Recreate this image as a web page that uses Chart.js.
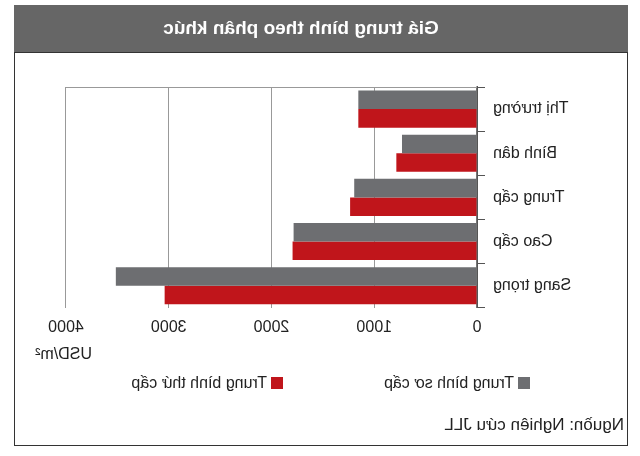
<!DOCTYPE html>
<html><head><meta charset="utf-8">
<script src="https://cdn.jsdelivr.net/npm/chart.js@4"></script>
<style>
body{margin:0;background:#fff;font-family:"Liberation Sans",Arial,sans-serif;}
#wrap{position:relative;width:640px;height:456px;transform:scaleX(-1);}
#frame{position:absolute;left:12px;top:5px;width:614px;height:441px;border:1.5px solid #333;box-sizing:border-box;}
#head{position:absolute;left:12px;top:5px;width:614px;height:48px;background:#666;border-bottom:1.5px solid #333;box-sizing:border-box;color:#fff;font-weight:bold;font-size:19px;text-align:center;line-height:46px;}
#cv{position:absolute;left:12px;top:60px;}
.t{position:absolute;color:#222;font-size:16px;}
.sq{display:inline-block;width:12px;height:12px;margin-right:4px;vertical-align:-1px;}
</style></head><body>
<div id="wrap">
<div id="frame"></div>
<div id="head"><span style="margin-left:40px">Giá trung bình theo phân khúc</span></div>
<canvas id="cv" width="616" height="290" style="width:616px;height:290px"></canvas>
<div class="t" style="left:548px;top:345px;">USD/m²</div>
<div class="t" style="left:110px;top:374px;"><span class="sq" style="background:#6d6e71"></span>Trung bình sơ cấp</div>
<div class="t" style="left:357px;top:374px;"><span class="sq" style="background:#c0151b"></span>Trung bình thứ cấp</div>
<div class="t" style="left:16px;top:415px;font-size:17px;">Nguồn: Nghiên cứu JLL</div>
</div>
<script>
const categories=["Thị trường","Bình dân","Trung cấp","Cao cấp","Sang trọng"];
const primary=[1155,730,1195,1785,3515];
const secondary=[1155,785,1235,1795,3040];
const ticks=[0,1000,2000,3000,4000];
const topLine={id:'topLine',afterDraw(c){const a=c.chartArea,x=c.ctx;x.save();x.strokeStyle='#999';x.lineWidth=1;x.beginPath();x.moveTo(a.left,a.top+0.5);x.lineTo(a.right,a.top+0.5);x.stroke();x.restore();}};
new Chart(document.getElementById('cv'),{
type:'bar',
data:{labels:categories,datasets:[
{label:'Trung bình sơ cấp',data:primary,backgroundColor:'#6d6e71',categoryPercentage:0.84,barPercentage:1},
{label:'Trung bình thứ cấp',data:secondary,backgroundColor:'#c0151b',categoryPercentage:0.84,barPercentage:1}]},
plugins:[topLine],
options:{indexAxis:'y',responsive:false,animation:false,
layout:{padding:{top:27,right:54,left:0,bottom:3}},
plugins:{legend:{display:false},tooltip:{enabled:false}},
scales:{
x:{min:0,max:4000,afterBuildTicks:a=>{a.ticks=ticks.map(v=>({value:v}));},
 ticks:{color:'#222',font:{size:16,family:'Liberation Sans'},padding:10,callback:v=>String(v)},
 grid:{color:'#999',drawTicks:false},border:{display:false}},
y:{afterFit:a=>{a.width=151;},
 ticks:{color:'#222',font:{size:16,family:'Liberation Sans'},padding:8},
 grid:{display:true,offset:true,drawOnChartArea:false,tickLength:8,color:'#555'},
 border:{color:'#555',width:1.5}}
}}});
</script>
</body></html>
